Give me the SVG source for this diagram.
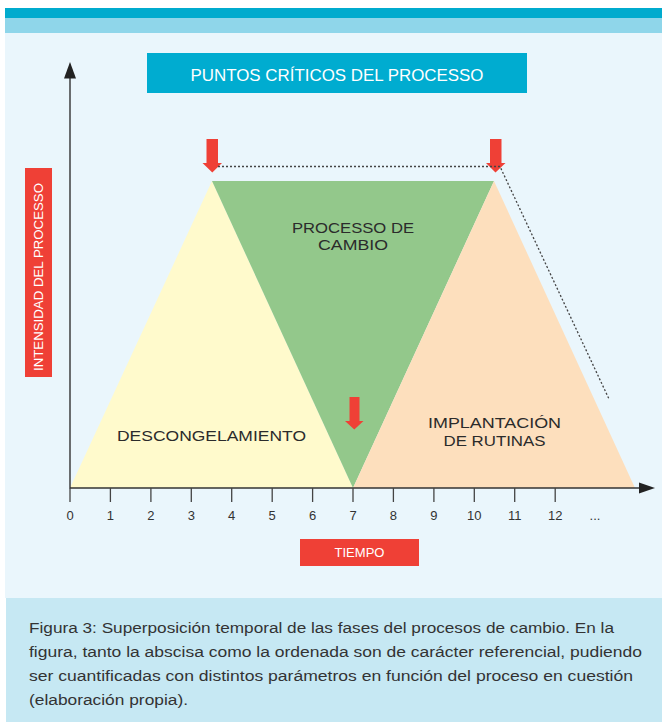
<svg xmlns="http://www.w3.org/2000/svg" width="662" height="722" viewBox="0 0 662 722">
<style>
  text { font-family: "Liberation Sans", Arial, sans-serif; }
  .lbl { font-size: 15.5px; fill: #2b2b2b; text-anchor: middle; }
  .tick { font-size: 13px; fill: #333333; text-anchor: middle; }
  .cap { font-size: 15.5px; fill: #333333; }
  .redarrow { fill: #EF4036; }
  .dots { fill: none; stroke: #444444; stroke-width: 1.3; stroke-dasharray: 2 2; }
  .axis { stroke: #333333; stroke-width: 1.4; fill: none; }
</style>
<rect x="0" y="0" width="662" height="722" fill="#ffffff"/>
<rect x="5" y="8" width="657" height="10" fill="#00ABCE"/>
<rect x="5" y="18" width="657" height="15" fill="#8FD6EA"/>
<rect x="5" y="33" width="657" height="565" fill="#EAF6FC"/>
<rect x="6" y="598" width="656" height="124" fill="#C6E8F3"/>

<g id="phase-descongelamiento">
  <polygon points="70,488 212,181 353,488" fill="#FFFACC"/>
  <text class="lbl" x="211.5" y="441" textLength="189" lengthAdjust="spacingAndGlyphs">DESCONGELAMIENTO</text>
</g>
<g id="phase-cambio">
  <polygon points="212,181 494,181 353,488" fill="#93C88B"/>
  <text class="lbl" x="353" y="233" textLength="122" lengthAdjust="spacingAndGlyphs">PROCESSO DE</text>
  <text class="lbl" x="353" y="250" textLength="70" lengthAdjust="spacingAndGlyphs">CAMBIO</text>
</g>
<g id="phase-implantacion">
  <polygon points="353,488 494,181 635,488" fill="#FDDFBD"/>
  <text class="lbl" x="494.5" y="428" textLength="133" lengthAdjust="spacingAndGlyphs">IMPLANTACIÓN</text>
  <text class="lbl" x="494.5" y="446" textLength="102" lengthAdjust="spacingAndGlyphs">DE RUTINAS</text>
</g>

<g id="title">
  <rect x="147" y="53" width="380" height="40" fill="#00ACD0"/>
  <text x="337" y="80.5" font-size="16.5" fill="#ffffff" text-anchor="middle" textLength="293" lengthAdjust="spacingAndGlyphs">PUNTOS CRÍTICOS DEL PROCESSO</text>
</g>

<g id="y-label">
  <rect x="25" y="168" width="27" height="209" fill="#EF4036"/>
  <text x="0" y="0" font-size="12.5" fill="#ffffff" text-anchor="middle" textLength="188" lengthAdjust="spacingAndGlyphs" transform="translate(42.5,277) rotate(-90)">INTENSIDAD DEL PROCESSO</text>
</g>

<g id="x-label">
  <rect x="300" y="539" width="119" height="27" fill="#EF4036"/>
  <text x="359.5" y="557" font-size="13" fill="#ffffff" text-anchor="middle" textLength="50" lengthAdjust="spacingAndGlyphs">TIEMPO</text>
</g>

<g id="critical-points">
  <polygon class="redarrow" points="206.5,139 218,139 218,163 222,163 212.3,172.5 202.5,163 206.5,163"/>
  <polygon class="redarrow" points="490,139 501.5,139 501.5,163 505.5,163 495.5,172.5 486,163 490,163"/>
  <polygon class="redarrow" points="349.5,397 359.5,397 359.5,421 363.5,421 354.3,429.5 345,421 349.5,421"/>
</g>

<g id="connectors">
  <polyline class="dots" points="218,166.5 500,166.5 609,399"/>
  <line class="axis" x1="70" y1="76" x2="70" y2="488.5"/>
  <polygon points="70,62 64,78.5 76,78.5" fill="#222222"/>
  <line class="axis" x1="70" y1="488" x2="641" y2="488"/>
  <polygon points="639,482.5 655,488 639,493.5" fill="#222222"/>
  <g stroke="#444444" stroke-width="1.3">
    <line x1="70" y1="488" x2="70" y2="502"/>
    <line x1="110.4" y1="488" x2="110.4" y2="502"/>
    <line x1="150.9" y1="488" x2="150.9" y2="502"/>
    <line x1="191.3" y1="488" x2="191.3" y2="502"/>
    <line x1="231.7" y1="488" x2="231.7" y2="502"/>
    <line x1="272.2" y1="488" x2="272.2" y2="502"/>
    <line x1="312.6" y1="488" x2="312.6" y2="502"/>
    <line x1="353" y1="488" x2="353" y2="502"/>
    <line x1="393.4" y1="488" x2="393.4" y2="502"/>
    <line x1="433.9" y1="488" x2="433.9" y2="502"/>
    <line x1="474.3" y1="488" x2="474.3" y2="502"/>
    <line x1="514.7" y1="488" x2="514.7" y2="502"/>
    <line x1="555.2" y1="488" x2="555.2" y2="502"/>
  </g>
</g>

<g id="ticks">
  <text class="tick" x="70" y="520">0</text>
  <text class="tick" x="110.4" y="520">1</text>
  <text class="tick" x="150.9" y="520">2</text>
  <text class="tick" x="191.3" y="520">3</text>
  <text class="tick" x="231.7" y="520">4</text>
  <text class="tick" x="272.2" y="520">5</text>
  <text class="tick" x="312.6" y="520">6</text>
  <text class="tick" x="353" y="520">7</text>
  <text class="tick" x="393.4" y="520">8</text>
  <text class="tick" x="433.9" y="520">9</text>
  <text class="tick" x="474.3" y="520">10</text>
  <text class="tick" x="514.7" y="520">11</text>
  <text class="tick" x="555.2" y="520">12</text>
  <text class="tick" x="595" y="520">...</text>
</g>

<g id="caption">
  <text class="cap" x="29" y="633" textLength="585" lengthAdjust="spacingAndGlyphs">Figura 3: Superposición temporal de las fases del procesos de cambio. En la</text>
  <text class="cap" x="29" y="657" textLength="613" lengthAdjust="spacingAndGlyphs">figura, tanto la abscisa como la ordenada son de carácter referencial, pudiendo</text>
  <text class="cap" x="29" y="681" textLength="604" lengthAdjust="spacingAndGlyphs">ser cuantificadas con distintos parámetros en función del proceso en cuestión</text>
  <text class="cap" x="29" y="705" textLength="159" lengthAdjust="spacingAndGlyphs">(elaboración propia).</text>
</g>
</svg>
